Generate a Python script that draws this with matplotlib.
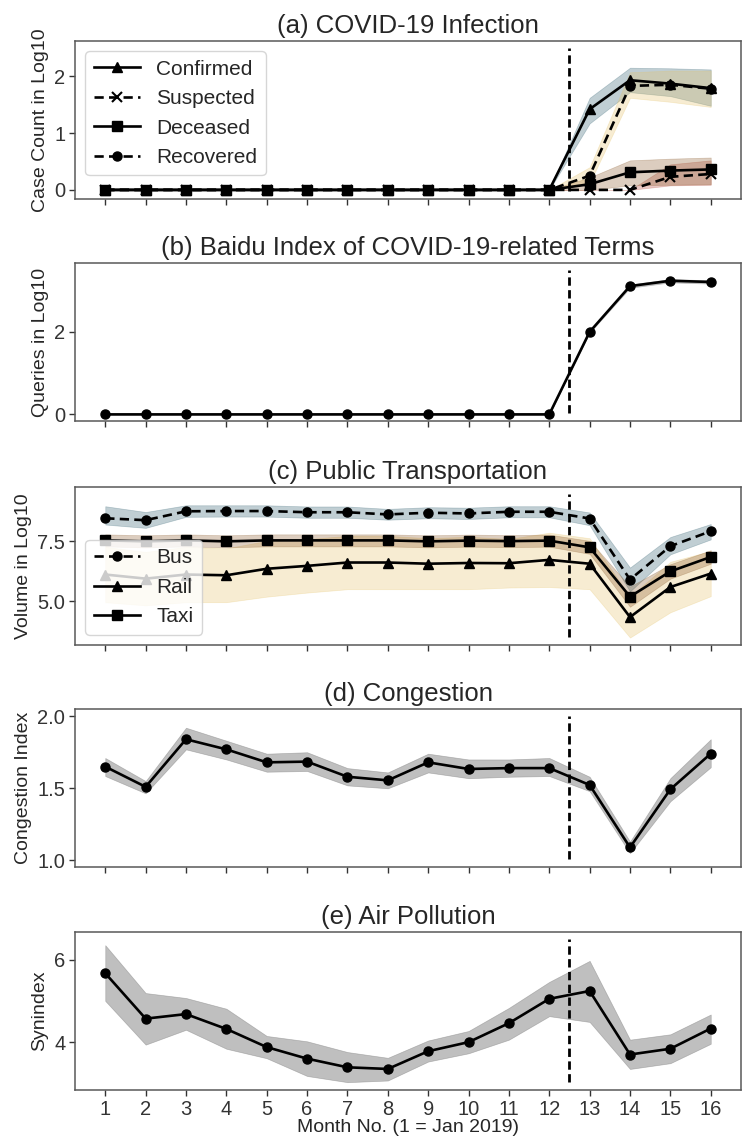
import matplotlib
matplotlib.use("Agg")
import matplotlib.pyplot as plt

plt.rcParams['font.family'] = ['Liberation Sans', 'DejaVu Sans']
plt.rcParams['text.color'] = '0.15'
plt.rcParams['axes.labelcolor'] = '0.15'
plt.rcParams['xtick.color'] = '0.2'
plt.rcParams['ytick.color'] = '0.2'

months = list(range(1, 17))

# (a) COVID-19 infection (log10)
confirmed    = [0, 0, 0, 0, 0, 0, 0, 0, 0, 0, 0, 0, 1.42, 1.93, 1.87, 1.79]
confirmed_lo = [0, 0, 0, 0, 0, 0, 0, 0, 0, 0, 0, 0, 1.17, 1.72, 1.65, 1.48]
confirmed_hi = [0, 0, 0, 0, 0, 0, 0, 0, 0, 0, 0, 0, 1.62, 2.15, 2.14, 2.12]
suspected    = [0, 0, 0, 0, 0, 0, 0, 0, 0, 0, 0, 0, 0.0, 0.0, 0.23, 0.28]
suspected_lo = [0, 0, 0, 0, 0, 0, 0, 0, 0, 0, 0, 0, 0.0, 0.0, 0.08, 0.09]
suspected_hi = [0, 0, 0, 0, 0, 0, 0, 0, 0, 0, 0, 0, 0.0, 0.0, 0.45, 0.52]
deceased     = [0, 0, 0, 0, 0, 0, 0, 0, 0, 0, 0, 0, 0.10, 0.31, 0.34, 0.36]
deceased_lo  = [0, 0, 0, 0, 0, 0, 0, 0, 0, 0, 0, 0, 0.00, 0.08, 0.09, 0.10]
deceased_hi  = [0, 0, 0, 0, 0, 0, 0, 0, 0, 0, 0, 0, 0.22, 0.52, 0.55, 0.57]
recovered    = [0, 0, 0, 0, 0, 0, 0, 0, 0, 0, 0, 0, 0.25, 1.83, 1.85, 1.78]
recovered_lo = [0, 0, 0, 0, 0, 0, 0, 0, 0, 0, 0, 0, 0.12, 1.62, 1.55, 1.46]
recovered_hi = [0, 0, 0, 0, 0, 0, 0, 0, 0, 0, 0, 0, 0.40, 2.07, 2.10, 2.10]

# (b) Baidu index (log10)
baidu    = [0, 0, 0, 0, 0, 0, 0, 0, 0, 0, 0, 0, 2.00, 3.11, 3.24, 3.21]
baidu_lo = [0, 0, 0, 0, 0, 0, 0, 0, 0, 0, 0, 0, 1.98, 3.07, 3.20, 3.17]
baidu_hi = [0, 0, 0, 0, 0, 0, 0, 0, 0, 0, 0, 0, 2.02, 3.15, 3.28, 3.25]

# (c) Public transportation (log10)
bus     = [8.46, 8.38, 8.75, 8.76, 8.76, 8.71, 8.71, 8.62, 8.69, 8.66, 8.73, 8.73, 8.45, 5.91, 7.30, 7.92]
bus_lo  = [8.20, 8.06, 8.52, 8.53, 8.53, 8.48, 8.48, 8.40, 8.46, 8.43, 8.50, 8.50, 8.17, 5.42, 6.96, 7.58]
bus_hi  = [8.96, 8.72, 9.00, 9.00, 9.00, 8.95, 8.95, 8.85, 8.92, 8.90, 8.96, 8.96, 8.70, 6.41, 7.68, 8.22]
rail    = [6.12, 5.95, 6.12, 6.09, 6.36, 6.48, 6.62, 6.62, 6.57, 6.60, 6.59, 6.73, 6.57, 4.35, 5.60, 6.16]
rail_lo = [4.97, 4.84, 4.97, 4.97, 5.20, 5.37, 5.51, 5.51, 5.51, 5.51, 5.58, 5.60, 5.51, 3.50, 4.55, 5.22]
rail_hi = [7.27, 7.06, 7.27, 7.21, 7.52, 7.59, 7.73, 7.73, 7.63, 7.69, 7.60, 7.86, 7.63, 5.20, 6.65, 7.10]
taxi    = [7.54, 7.50, 7.54, 7.50, 7.54, 7.54, 7.54, 7.54, 7.50, 7.53, 7.51, 7.53, 7.25, 5.20, 6.25, 6.85]
taxi_lo = [7.29, 7.25, 7.29, 7.25, 7.29, 7.29, 7.29, 7.29, 7.25, 7.28, 7.26, 7.28, 6.98, 4.78, 5.95, 6.57]
taxi_hi = [7.79, 7.75, 7.79, 7.75, 7.79, 7.79, 7.79, 7.79, 7.75, 7.78, 7.76, 7.78, 7.52, 5.62, 6.55, 7.13]

# (d) Congestion index
congestion    = [1.65, 1.51, 1.84, 1.77, 1.68, 1.685, 1.58, 1.555, 1.68, 1.634, 1.64, 1.64, 1.523, 1.09, 1.493, 1.74]
congestion_lo = [1.585, 1.465, 1.77, 1.70, 1.615, 1.62, 1.52, 1.50, 1.61, 1.57, 1.58, 1.585, 1.48, 1.05, 1.41, 1.646]
congestion_hi = [1.71, 1.55, 1.92, 1.83, 1.74, 1.75, 1.64, 1.61, 1.74, 1.70, 1.70, 1.71, 1.58, 1.13, 1.57, 1.84]

# (e) Air pollution (synindex)
pollution    = [5.67, 4.57, 4.68, 4.32, 3.88, 3.60, 3.39, 3.35, 3.78, 4.00, 4.46, 5.05, 5.24, 3.70, 3.84, 4.33]
pollution_lo = [5.00, 3.94, 4.30, 3.84, 3.61, 3.18, 3.03, 3.07, 3.53, 3.73, 4.06, 4.63, 4.49, 3.35, 3.49, 3.96]
pollution_hi = [6.35, 5.19, 5.07, 4.81, 4.15, 4.02, 3.76, 3.62, 4.04, 4.27, 4.83, 5.46, 5.97, 4.06, 4.19, 4.67]

titles = ["(a) COVID-19 Infection", "(b) Baidu Index of COVID-19-related Terms",
          "(c) Public Transportation", "(d) Congestion", "(e) Air Pollution"]
ylabels = ["Case Count in Log10", "Queries in Log10", "Volume in Log10",
           "Congestion Index", "Synindex"]

W, H = 743, 1139
fig = plt.figure(figsize=(W / 100, H / 100), dpi=100)
tops = [41, 263, 487, 709, 932]
ax_h = 158
left, right = 75, 741
axes = []
for t in tops:
    ax = fig.add_axes([left / W, 1 - (t + ax_h) / H, (right - left) / W, ax_h / H])
    axes.append(ax)

LW = 1.9
MS = 6.5
TICK_FS = 14.5
LABEL_FS = 14
TITLE_FS = 18.5
LEG_FS = 15

BLUE = '#2f5f6f'
YELLOW = '#e6c36a'
BROWN = '#8b5a2b'
RED = '#b5483a'
GREY = '0.5'
DASH = (3.5, 2)

# (a)
ax = axes[0]
ax.fill_between(months, confirmed_lo, confirmed_hi, color=BLUE, alpha=0.3, lw=0.5)
ax.fill_between(months, suspected_lo, suspected_hi, color=RED, alpha=0.3, lw=0.5)
ax.fill_between(months, deceased_lo, deceased_hi, color=BROWN, alpha=0.3, lw=0.5)
ax.fill_between(months, recovered_lo, recovered_hi, color=YELLOW, alpha=0.3, lw=0.5)
l1, = ax.plot(months, confirmed, color='black', lw=LW, marker='^', ms=MS, label='Confirmed')
l2, = ax.plot(months, suspected, color='black', lw=LW, ls='--', dashes=DASH, marker='x', ms=MS, mew=1.5, label='Suspected')
l3, = ax.plot(months, deceased, color='black', lw=LW, marker='s', ms=MS, label='Deceased')
l4, = ax.plot(months, recovered, color='black', lw=LW, ls='--', dashes=DASH, marker='o', ms=MS, label='Recovered')
ax.set_ylim(-0.16, 2.62)
ax.set_yticks([0, 1, 2])
ax.legend(handles=[l1, l2, l3, l4], loc='upper left', fontsize=LEG_FS, framealpha=0.8,
          edgecolor='0.8', handlelength=2.2)

# (b)
ax = axes[1]
ax.fill_between(months, baidu_lo, baidu_hi, color=GREY, alpha=0.45, lw=0.5)
ax.plot(months, baidu, color='black', lw=LW, marker='o', ms=MS)
ax.set_ylim(-0.16, 3.67)
ax.set_yticks([0, 2])

# (c)
ax = axes[2]
ax.fill_between(months, bus_lo, bus_hi, color=BLUE, alpha=0.3, lw=0.5)
ax.fill_between(months, rail_lo, rail_hi, color=YELLOW, alpha=0.3, lw=0.5)
ax.fill_between(months, taxi_lo, taxi_hi, color=BROWN, alpha=0.3, lw=0.5)
b1, = ax.plot(months, bus, color='black', lw=LW, ls='--', dashes=DASH, marker='o', ms=MS, label='Bus')
b2, = ax.plot(months, rail, color='black', lw=LW, marker='^', ms=MS, label='Rail')
b3, = ax.plot(months, taxi, color='black', lw=LW, marker='s', ms=MS, label='Taxi')
ax.set_ylim(3.19, 9.76)
ax.set_yticks([5.0, 7.5])
ax.set_yticklabels(['5.0', '7.5'])
ax.legend(handles=[b1, b2, b3], loc='lower left', fontsize=LEG_FS, framealpha=0.8,
          edgecolor='0.8', handlelength=2.2)

# (d)
ax = axes[3]
ax.fill_between(months, congestion_lo, congestion_hi, color=GREY, alpha=0.5, lw=0.5)
ax.plot(months, congestion, color='black', lw=LW, marker='o', ms=MS)
ax.set_ylim(0.954, 2.05)
ax.set_yticks([1.0, 1.5, 2.0])
ax.set_yticklabels(['1.0', '1.5', '2.0'])

# (e)
ax = axes[4]
ax.fill_between(months, pollution_lo, pollution_hi, color=GREY, alpha=0.5, lw=0.5)
ax.plot(months, pollution, color='black', lw=LW, marker='o', ms=MS)
ax.set_ylim(2.84, 6.67)
ax.set_yticks([4, 6])
ax.set_xlabel("Month No. (1 = Jan 2019)", fontsize=LABEL_FS, labelpad=0)

for i, ax in enumerate(axes):
    ax.axvline(12.5, ymin=0.05, ymax=0.955, color='black', lw=2, ls='--', dashes=(3, 1.6))
    ax.set_xlim(0.25, 16.75)
    ax.set_xticks(months)
    if i < 4:
        ax.set_xticklabels([])
    ax.set_title(titles[i], fontsize=TITLE_FS, pad=6)
    ax.set_ylabel(ylabels[i], fontsize=LABEL_FS, labelpad=4)
    ax.tick_params(axis='both', labelsize=TICK_FS, length=4, width=1, direction='out', pad=3)
    for s in ax.spines.values():
        s.set_color('0.35')
        s.set_linewidth(1.1)

fig.savefig("out.png", dpi=100)
